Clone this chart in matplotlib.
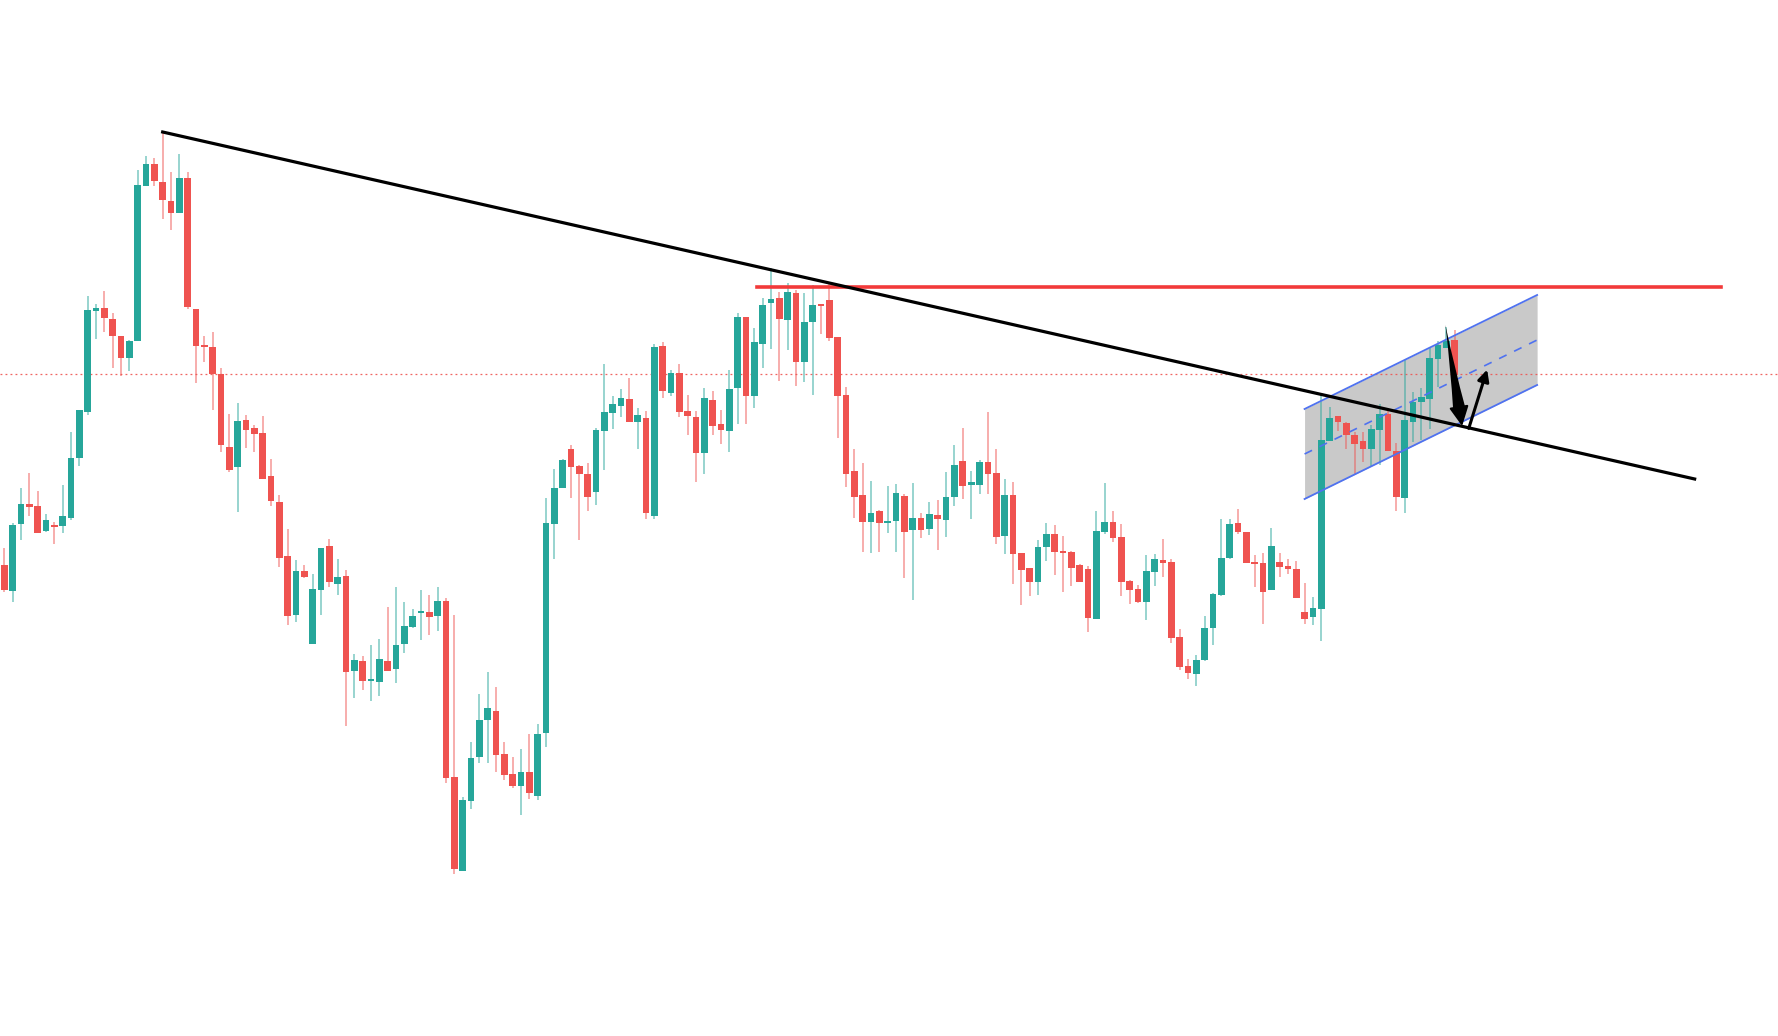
import matplotlib
matplotlib.use("Agg")
import matplotlib.pyplot as plt
import numpy as np

# candle values (o, h, l, c), one row per bar
opens = [471, 445, 512, 532, 530, 505, 510, 510, 518, 578, 624, 725, 728, 717, 700, 678, 695, 850, 872, 854,
         835, 823, 858, 727, 690, 689, 662, 589, 569, 616, 608, 603, 560, 534, 480, 421, 465, 392, 446, 490,
         452, 460, 365, 375, 355, 354, 375, 367, 392, 409, 423, 424, 420, 435, 259, 165, 235, 279, 316, 325,
         282, 262, 250, 264, 240, 303, 512, 548, 587, 570, 562, 544, 605, 623, 630, 637, 614, 618, 520, 690,
         643, 663, 625, 619, 583, 636, 612, 605, 648, 719, 640, 692, 733, 738, 716, 743, 674, 714, 731, 736,
         699, 641, 565, 541, 514, 525, 513, 515, 540, 506, 518, 507, 521, 516, 539, 575, 551, 551, 574, 563,
         500, 541, 483, 468, 454, 489, 502, 485, 484, 471, 467, 417, 504, 514, 499, 455, 447, 434, 464, 476,
         474, 399, 370, 362, 376, 408, 441, 478, 513, 504, 474, 473, 446, 474, 470, 467, 424, 419, 427, 595,
         620, 613, 601, 595, 587, 606, 622, 585, 538, 614, 634, 637, 677, 688, 696]
highs = [488, 513, 548, 563, 545, 522, 514, 551, 604, 626, 740, 732, 745, 723, 700, 696, 866, 880, 878, 904,
         864, 882, 864, 727, 700, 704, 668, 622, 633, 621, 611, 620, 577, 541, 507, 476, 471, 462, 488, 497,
         477, 466, 382, 380, 391, 397, 429, 449, 434, 427, 446, 441, 449, 438, 421, 239, 294, 342, 364, 349,
         294, 279, 287, 302, 312, 538, 567, 577, 591, 571, 573, 608, 672, 640, 647, 658, 628, 625, 692, 694,
         666, 672, 641, 625, 648, 645, 626, 666, 723, 719, 708, 738, 768, 744, 753, 746, 743, 751, 731, 753,
         699, 649, 587, 573, 555, 526, 550, 552, 542, 553, 523, 534, 536, 564, 591, 608, 565, 576, 624, 587,
         557, 554, 483, 468, 496, 513, 511, 500, 485, 472, 470, 525, 553, 525, 512, 456, 451, 481, 482, 497,
         477, 407, 377, 381, 420, 443, 517, 517, 527, 504, 481, 483, 508, 483, 477, 475, 453, 439, 642, 629,
         620, 614, 604, 604, 611, 632, 625, 593, 676, 644, 648, 688, 695, 709, 706]
lows = [444, 434, 496, 520, 503, 504, 492, 503, 516, 570, 621, 697, 704, 668, 660, 665, 695, 850, 850, 817,
        806, 823, 727, 653, 674, 626, 584, 564, 524, 588, 584, 557, 530, 469, 411, 414, 458, 392, 421, 449,
        441, 310, 338, 346, 335, 340, 365, 353, 383, 408, 396, 401, 405, 253, 162, 165, 227, 273, 273, 264,
        256, 248, 221, 237, 236, 289, 477, 548, 538, 496, 525, 531, 566, 607, 619, 614, 587, 517, 517, 638,
        640, 619, 601, 554, 562, 601, 592, 584, 612, 612, 628, 668, 687, 655, 686, 650, 654, 641, 702, 695,
        598, 549, 518, 484, 483, 484, 503, 484, 458, 436, 498, 501, 486, 499, 530, 537, 517, 542, 542, 492,
        482, 452, 431, 440, 441, 475, 461, 444, 450, 454, 404, 417, 502, 494, 440, 432, 433, 416, 450, 459,
        393, 366, 357, 350, 375, 391, 440, 477, 502, 473, 449, 412, 446, 459, 462, 438, 412, 411, 395, 595,
        605, 587, 561, 574, 570, 571, 585, 525, 523, 594, 596, 607, 649, 688, 661]
closes = [446, 511, 532, 529, 503, 516, 509, 520, 578, 626, 726, 728, 718, 700, 678, 695, 851, 872, 855, 836,
          823, 858, 729, 690, 689, 662, 591, 566, 615, 606, 602, 557, 535, 478, 420, 465, 459, 447, 488, 454,
          459, 364, 376, 355, 356, 377, 365, 391, 410, 420, 425, 419, 435, 258, 167, 236, 278, 316, 328, 281,
          261, 250, 264, 243, 302, 513, 548, 576, 569, 562, 539, 606, 624, 632, 638, 614, 621, 523, 689, 645,
          663, 624, 620, 583, 638, 610, 606, 647, 719, 640, 694, 731, 737, 717, 744, 674, 714, 731, 730, 698,
          640, 562, 539, 514, 523, 513, 515, 543, 504, 518, 506, 522, 517, 539, 571, 550, 554, 574, 562, 499,
          541, 482, 466, 454, 489, 502, 484, 483, 468, 454, 418, 505, 514, 498, 454, 446, 434, 465, 477, 473,
          398, 369, 363, 376, 408, 442, 478, 512, 504, 473, 472, 444, 490, 469, 467, 438, 417, 428, 596, 618,
          614, 601, 592, 587, 607, 622, 585, 539, 616, 634, 639, 678, 691, 695, 661]

# drawings, in (bar, price)
trend_start = (19, 904)
trend_end = (202.8, 557)
resistance = 749
resistance_from, resistance_to = 90.3, 206.0
last_price = 662
chan_x = (156.0, 183.9)
chan_low = (537, 651)
chan_high = (627, 741)
arrow_down = ((172.9, 711), (174.9, 610))
arrow_up = ((175.6, 605), (178.0, 669))

UP = '#26a69a'
DOWN = '#ef5350'

fig = plt.figure(figsize=(17.78, 10.36), dpi=100)
ax = fig.add_axes([0, 0, 1, 1])
ax.set_xlim(-0.516, 212.8)
ax.set_ylim(0, 1036)
ax.axis('off')

# channel box
cx = np.array(chan_x)
ax.fill_between(cx, chan_low, chan_high, color='#c9c9c9', zorder=1, lw=0)
ax.plot(cx, chan_low, color='#4f72f0', lw=1.3, zorder=4)
ax.plot(cx, chan_high, color='#4f72f0', lw=1.3, zorder=4)
mid = (np.array(chan_low) + np.array(chan_high)) / 2
ax.plot(cx, mid, color='#4f72f0', lw=1.2, ls=(0, (5, 5)), zorder=4)

# candles
x = np.arange(len(opens))
o = np.array(opens); h = np.array(highs); l = np.array(lows); c = np.array(closes)
col = np.where(c >= o, UP, DOWN)
ax.vlines(x, l, h, colors=col, lw=1.1, alpha=0.6, zorder=2)
body = np.abs(c - o)
body = np.where(body < 2, 2, body)
ax.bar(x, body, bottom=np.minimum(o, c), width=0.8, color=col, zorder=3, lw=0)

# lines
ax.axhline(last_price, color=DOWN, lw=0.9, ls=(0, (1.5, 2.5)), alpha=0.9, zorder=1.5)
ax.plot([resistance_from, resistance_to], [resistance, resistance], color='#f23a3a', lw=2.6, zorder=4)
ax.plot([trend_start[0], trend_end[0]], [trend_start[1], trend_end[1]], color='black', lw=2.3, zorder=5)

# arrows: tapered shaft for the big one, plain one for the small
tail, tip = arrow_down
ax.annotate('', xy=tail, xytext=tip,
            arrowprops=dict(arrowstyle='wedge,tail_width=0.9,shrink_factor=0.4', color='black',
                            lw=0, shrinkA=12, shrinkB=0), zorder=6)
ax.annotate('', xy=tip, xytext=tail,
            arrowprops=dict(arrowstyle='-|>', color='black', lw=1.5, mutation_scale=30,
                            shrinkA=30, shrinkB=0), zorder=6)
ax.annotate('', xy=arrow_up[1], xytext=arrow_up[0],
            arrowprops=dict(arrowstyle='-|>', color='black', lw=2.2, mutation_scale=17), zorder=6)

fig.savefig('out.png', dpi=100, facecolor='white')
